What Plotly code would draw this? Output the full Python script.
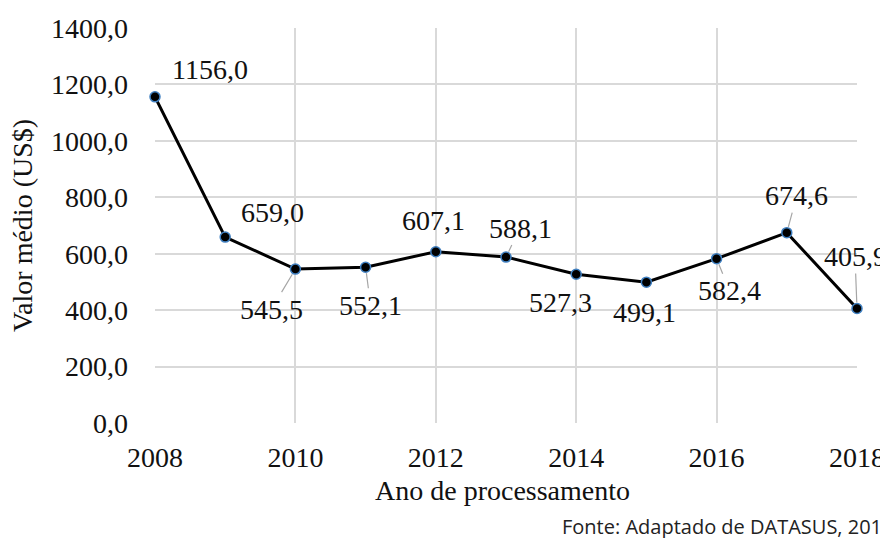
import plotly.graph_objects as go

years = [2008, 2009, 2010, 2011, 2012, 2013, 2014, 2015, 2016, 2017, 2018]
values = [1156.0, 659.0, 545.5, 552.1, 607.1, 588.1, 527.3, 499.1, 582.4, 674.6, 405.9]
y_ticks = [0, 200, 400, 600, 800, 1000, 1200, 1400]
x_ticks = [2008, 2010, 2012, 2014, 2016, 2018]

# label offsets in pixels (dx, dy) from each point, and whether a leader line is drawn
label_dx = [55, 47, -24, 5, -2, 14, -16, -2, 13, 10, -2]
label_dy = [-27, -25, 40, 38, -31, -29, 28, 30, 32, -37, -52]
leader = [False, False, True, True, False, True, False, False, True, True, True]

FONT = "Liberation Serif"
FS = 28
OFF = 8  # page body margin
W, H = 888 - OFF, 538 - OFF
L = 155 - OFF
R = W - (857 - OFF)
T = 28 - OFF
B = H - (423 - OFF)
pw = W - L - R
ph = H - T - B

def fmt(v):
    return f"{v:.1f}".replace(".", ",")

def px_to_paper(px, py):
    # page pixel -> paper coords
    fx, fy = px - OFF, py - OFF
    return (fx - L) / pw, (H - B - fy) / ph

fig = go.Figure()
fig.add_trace(go.Scatter(
    x=years, y=values, mode="lines+markers",
    line=dict(color="black", width=3),
    marker=dict(size=10, color="black", line=dict(color="#3f7fc0", width=1.5)),
    cliponaxis=False, showlegend=False, hoverinfo="skip",
))

annotations = []
for x, v, dx, dy, ld in zip(years, values, label_dx, label_dy, leader):
    annotations.append(dict(
        x=x, y=v, xref="x", yref="y", text=fmt(v),
        showarrow=True, ax=dx, ay=dy, axref="pixel", ayref="pixel",
        arrowhead=0, arrowwidth=1.2,
        arrowcolor="#a6a6a6" if ld else "rgba(0,0,0,0)",
        standoff=6,
        font=dict(family=FONT, size=FS, color="#111"),
    ))

tx, ty = px_to_paper(502, 490)
annotations.append(dict(
    x=tx, y=ty, xref="paper", yref="paper", text="Ano de processamento",
    showarrow=False, xanchor="center", yanchor="middle",
    font=dict(family=FONT, size=FS, color="#111"),
))

vx, vy = px_to_paper(22, 226)
annotations.append(dict(
    x=vx, y=vy, xref="paper", yref="paper", text="Valor médio (US$)",
    showarrow=False, xanchor="center", yanchor="middle", textangle=-90,
    font=dict(family=FONT, size=FS, color="#111"),
))

sx, sy = px_to_paper(560, 526)
annotations.append(dict(
    x=sx, y=sy, xref="paper", yref="paper",
    text="Fonte: Adaptado de DATASUS, 2019",
    showarrow=False, xanchor="left", yanchor="middle",
    font=dict(family="Open Sans", size=20, color="#222"),
))

fig.update_layout(
    width=W, height=H,
    margin=dict(l=L, r=R, t=T, b=B),
    paper_bgcolor="white", plot_bgcolor="white",
    annotations=annotations,
    xaxis=dict(
        range=[2008, 2018], tickvals=x_ticks, ticktext=[str(t) for t in x_ticks],
        showgrid=True, gridcolor="#d9d9d9", gridwidth=1.5,
        zeroline=False, showline=False, ticks="", automargin=False,
        ticklabelstandoff=15, ticklabeloverflow="allow",
        tickfont=dict(family=FONT, size=FS, color="#111"),
    ),
    yaxis=dict(
        range=[0, 1400], tickvals=y_ticks, ticktext=[fmt(t) for t in y_ticks],
        showgrid=True, gridcolor="#d9d9d9", gridwidth=1.5,
        zeroline=False, showline=False, ticks="", automargin=False,
        ticklabelstandoff=26, ticklabeloverflow="allow",
        tickfont=dict(family=FONT, size=FS, color="#111"),
    ),
)

fig.write_html("out.html")
